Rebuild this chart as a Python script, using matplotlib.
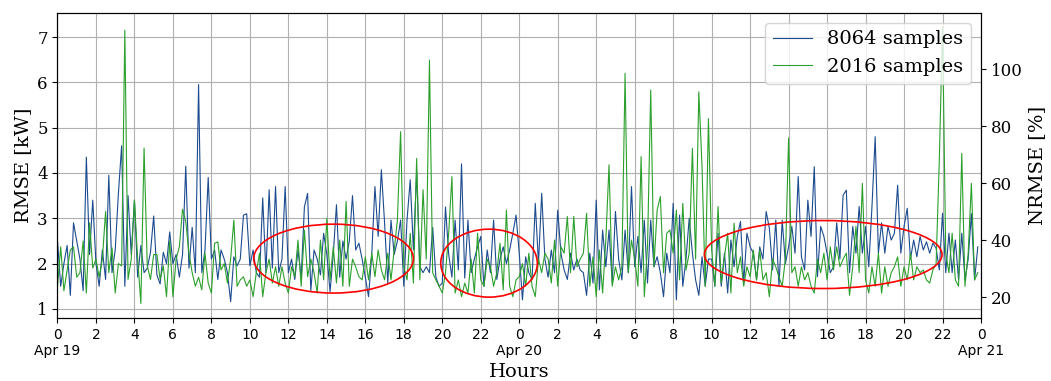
import numpy as np
import matplotlib
matplotlib.use("Agg")
import matplotlib.pyplot as plt
from matplotlib.patches import Ellipse

plt.rcParams['font.family'] = 'DejaVu Serif'

# RMSE [kW], one value every 10 minutes, Apr 19 00:00 -> Apr 21 00:00 (one row = 2 hours)
rmse_8064 = [
    2.5, 1.5, 2.0, 2.4, 1.3, 2.9, 2.5, 2.1, 1.4, 4.35, 2.2, 3.4,
    2.0, 1.5, 2.3, 1.65, 3.95, 1.8, 2.3, 3.55, 4.6, 1.5, 3.5, 2.2,
    3.4, 1.7, 2.4, 1.8, 1.9, 2.25, 3.05, 1.75, 1.55, 2.25, 2.0, 2.7,
    2.0, 2.2, 1.7, 2.2, 4.15, 1.9, 2.8, 1.8, 5.95, 1.8, 2.3, 3.9,
    2.1, 2.3, 1.65, 2.3, 2.1, 1.8, 1.16, 2.15, 1.95, 2.1, 3.07, 3.1,
    1.95, 2.3, 1.8, 1.7, 3.45, 1.8, 3.63, 1.9, 3.7, 1.8, 2.1, 3.7,
    1.8, 2.1, 1.65, 2.3, 1.7, 3.25, 3.55, 1.4, 2.3, 2.1, 1.75, 2.67,
    2.2, 1.38, 2.2, 3.3, 1.7, 2.5, 2.1, 2.5, 3.5, 2.3, 2.45, 2.1,
    1.7, 1.27, 2.2, 3.7, 2.6, 4.07, 2.9, 1.57, 2.96, 2.2, 2.5, 2.96,
    1.5, 2.96, 3.85, 2.3, 4.03, 1.93, 1.8, 1.93, 1.8, 2.8, 1.7, 1.5,
    1.57, 3.25, 2.2, 1.7, 2.96, 1.86, 4.2, 1.68, 2.96, 1.8, 2.1, 2.37,
    2.6, 1.5, 2.3, 1.8, 2.96, 1.65, 2.1, 2.37, 2.0, 2.3, 2.67, 3.07,
    2.23, 1.2, 2.15, 1.8, 1.65, 3.33, 2.0, 3.55, 2.1, 1.7, 2.3, 1.8,
    3.18, 2.23, 1.86, 1.65, 2.23, 1.86, 2.1, 1.86, 1.8, 1.3, 2.23, 1.57,
    3.4, 1.42, 2.74, 1.93, 2.74, 1.57, 3.15, 2.1, 1.64, 2.74, 1.8, 3.7,
    1.93, 2.6, 1.8, 2.96, 1.57, 2.96, 1.93, 2.15, 1.8, 1.27, 2.23, 1.8,
    3.33, 1.2, 3.07, 1.5, 2.1, 3.0, 2.23, 1.64, 1.3, 2.15, 1.5, 2.1,
    2.1, 1.5, 2.67, 1.5, 2.23, 1.35, 2.52, 1.93, 2.6, 2.93, 1.57, 2.67,
    2.37, 2.23, 1.64, 2.37, 2.1, 3.15, 2.78, 1.86, 2.96, 1.5, 2.96, 2.0,
    2.37, 2.82, 2.23, 3.92, 2.15, 1.86, 3.4, 2.6, 4.14, 1.71, 2.82, 2.6,
    2.23, 1.8, 1.93, 2.9, 2.1, 3.51, 3.62, 1.8, 2.82, 2.23, 3.26, 2.23,
    2.82, 1.93, 3.26, 4.8, 2.23, 2.9, 2.23, 2.82, 2.52, 2.67, 3.73, 2.23,
    2.82, 3.22, 2.1, 2.52, 2.15, 2.6, 2.3, 2.48, 2.23, 2.45, 2.34, 1.86,
    3.11, 1.8, 2.67, 1.8, 2.52, 1.64, 2.67, 1.64, 2.1, 3.1, 1.64, 2.37,
]
rmse_2016 = [
    1.5, 2.37, 1.4, 1.85, 2.3, 2.37, 1.7, 1.8, 2.5, 1.35, 2.9, 1.9,
    2.1, 1.7, 2.1, 3.15, 1.8, 2.35, 1.35, 2.0, 1.95, 7.15, 1.65, 2.1,
    3.4, 2.1, 1.12, 4.55, 1.95, 1.65, 2.2, 2.2, 1.65, 1.95, 1.27, 2.5,
    1.27, 2.1, 2.37, 3.2, 2.93, 2.23, 1.8, 1.5, 1.7, 1.42, 2.23, 1.57,
    1.35, 2.45, 2.48, 1.86, 2.0, 1.57, 2.1, 2.96, 1.5, 1.64, 1.71, 1.5,
    1.64, 1.27, 1.8, 2.23, 1.27, 1.8, 2.1, 1.57, 1.93, 1.5, 1.93, 1.57,
    1.35, 1.93, 1.71, 2.52, 1.5, 2.74, 1.71, 2.1, 1.8, 1.35, 2.52, 1.64,
    3.0, 1.64, 2.37, 1.57, 2.52, 1.5, 3.37, 1.5, 2.1, 1.93, 1.71, 1.64,
    2.15, 1.64, 2.23, 1.71, 2.3, 1.86, 1.64, 2.23, 1.64, 2.3, 2.96, 4.91,
    1.93, 1.64, 2.67, 1.57, 4.32, 1.64, 3.63, 2.1, 6.49, 1.8, 1.64, 1.5,
    1.35, 1.8, 2.67, 3.92, 1.35, 1.64, 1.27, 1.57, 1.35, 2.1, 1.35, 2.67,
    1.64, 1.5, 2.1, 1.93, 1.5, 1.8, 2.45, 1.42, 3.18, 1.5, 1.27, 1.64,
    1.71, 2.0, 1.5, 2.23, 1.5, 1.27, 2.1, 1.8, 2.23, 2.1, 1.57, 2.52,
    1.5, 2.37, 2.23, 3.04, 1.8, 3.04, 1.93, 2.1, 2.23, 3.11, 1.5, 2.15,
    1.27, 2.3, 1.35, 2.52, 4.18, 1.5, 1.93, 1.64, 1.93, 6.2, 1.8, 2.52,
    2.1, 1.5, 4.36, 1.27, 2.37, 5.83, 1.93, 3.18, 3.48, 1.8, 2.67, 2.74,
    2.23, 3.18, 1.64, 3.33, 1.86, 2.23, 4.54, 2.1, 5.79, 4.14, 1.5, 5.2,
    2.3, 1.5, 3.26, 1.57, 2.15, 2.67, 1.35, 2.89, 1.8, 2.15, 1.5, 1.93,
    1.71, 2.3, 1.64, 2.3, 1.64, 1.8, 1.27, 2.1, 1.93, 1.71, 1.5, 2.1,
    4.77, 1.8, 1.93, 1.5, 1.93, 1.64, 1.8, 1.5, 1.35, 2.1, 1.8, 2.23,
    1.64, 2.37, 1.86, 2.37, 1.93, 2.1, 2.23, 1.3, 1.93, 2.82, 1.8, 3.77,
    1.64, 1.35, 1.93, 1.5, 2.23, 1.35, 1.93, 1.5, 1.8, 1.93, 2.15, 1.5,
    1.93, 1.64, 2.23, 1.64, 1.93, 1.8, 1.86, 1.64, 1.57, 1.86, 2.0, 4.29,
    7.23, 2.23, 1.8, 2.67, 1.64, 1.5, 4.43, 1.5, 2.23, 3.77, 1.64, 1.8,
]
step_hours = 1 / 6
nrmse_per_kw = 15.9  # % per kW on the right axis

tick_hours = list(range(0, 49, 2))
day_names = {0: 'Apr 19', 24: 'Apr 20', 48: 'Apr 21'}

# highlighted regions: (centre hour, centre kW, width h, height kW)
regions = [(14.35, 2.11, 8.3, 1.52),
           (22.43, 2.01, 5.02, 1.5),
           (39.8, 2.2, 12.35, 1.5)]

hours = np.arange(len(rmse_8064)) * step_hours

fig = plt.figure(figsize=(10.51, 3.81), dpi=100)
ax = fig.add_axes([0.0547, 0.1654, 0.8787, 0.8005])

ax.plot(hours, rmse_8064, color='#1c4b8f', lw=0.8, label='8064 samples')
ax.plot(hours, rmse_2016, color='#2ca02c', lw=0.8, label='2016 samples')
for cx, cy, w, h in regions:
    ax.add_patch(Ellipse((cx, cy), w, h, fill=False, edgecolor='red', lw=1.2, zorder=3))

ax.set_xlim(0, 48)
ax.set_ylim(0.8, 7.53)
labels = []
for t in tick_hours:
    lab = str(t % 24)
    if t in day_names:
        lab += '\n' + day_names[t]
    labels.append(lab)
ax.set_xticks(tick_hours)
ax.set_xticklabels(labels, fontfamily='DejaVu Sans', fontsize=10)
ax.set_yticks(range(1, 8))
ax.tick_params(axis='y', labelsize=12)
ax.grid(True, color='#b0b0b0', lw=0.8)
ax.set_xlabel('Hours', fontsize=14)
ax.set_ylabel('RMSE [kW]', fontsize=14)
ax.legend(loc='upper right', fontsize=14)

ax2 = ax.twinx()
ax2.set_ylim(0.8 * nrmse_per_kw, 7.53 * nrmse_per_kw)
ax2.set_yticks([20, 40, 60, 80, 100])
ax2.tick_params(axis='y', labelsize=12)
ax2.set_ylabel('NRMSE [%]', fontsize=14)

fig.savefig('out.png', dpi=100)
